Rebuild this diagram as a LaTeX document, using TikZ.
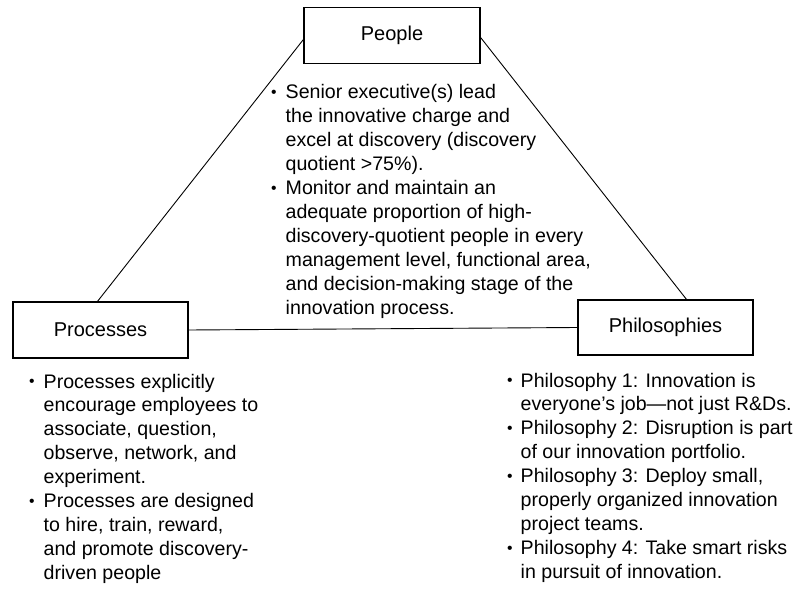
\documentclass[tikz,border=0pt]{standalone}
\usepackage{fontspec}
\setmainfont{Liberation Sans}
\newcommand{\itembullet}{\raisebox{0.1ex}{\scalebox{0.8}{\textbullet}}}
\begin{document}
	\begin{tikzpicture}[x=1pt,y=-1pt,
			corner/.style={draw,line width=1.2pt,minimum width=176pt,minimum height=56pt,inner sep=0pt,font=\fontsize{20}{24}\selectfont},
			link/.style={line width=0.9pt},
			notes/.style={inner sep=0pt,anchor=base west,font=\fontsize{19.6}{23.9}\selectfont}]
		\useasboundingbox (0,0) rectangle (794,609);
		\node (people) [corner] at (392,35.5) {People};
		\node (proc) [corner,minimum width=175pt] at (100.5,330) {Processes};
		\node (philo) [corner,minimum width=175pt,minimum height=55pt] at (665.5,327.5) {Philosophies};
		\draw[link] ([yshift=-4pt]people.west) -- ([xshift=-3pt]proc.north);
		\draw[link] ([yshift=-2pt]people.east) -- ([xshift=21pt]philo.north);
		\draw[link] (proc.east) -- (philo.west);
		\node (peoplenotes) [notes] at (271,99) {
			\begin{tabular}[t]{@{}l@{\hspace{9pt}}l@{}}
				\itembullet & Senior executive(s) lead \\
				& the innovative charge and \\
				& excel at discovery (discovery \\
				& quotient >75\%). \\
				\itembullet & Monitor and maintain an \\
				& adequate proportion of high- \\
				& discovery-quotient people in every \\
				& management level, functional area, \\
				& and decision-making stage of the \\
				& innovation process. \\
			\end{tabular}
		};
		\node (procnotes) [notes] at (29,388) {
			\begin{tabular}[t]{@{}l@{\hspace{9pt}}l@{}}
				\itembullet & Processes explicitly \\
				& encourage employees to \\
				& associate, question, \\
				& observe, network, and \\
				& experiment. \\
				\itembullet & Processes are designed \\
				& to hire, train, reward, \\
				& and promote discovery- \\
				& driven people \\
			\end{tabular}
		};
		\node (philonotes) [notes] at (507,387) {
			\begin{tabular}[t]{@{}l@{\hspace{8pt}}l@{}}
				\itembullet & Philosophy 1: Innovation is \\
				& everyone’s job—not just R\&Ds. \\
				\itembullet & Philosophy 2: Disruption is part \\
				& of our innovation portfolio. \\
				\itembullet & Philosophy 3: Deploy small, \\
				& properly organized innovation \\
				& project teams. \\
				\itembullet & Philosophy 4: Take smart risks \\
				& in pursuit of innovation. \\
			\end{tabular}
		};
	\end{tikzpicture}
\end{document}
